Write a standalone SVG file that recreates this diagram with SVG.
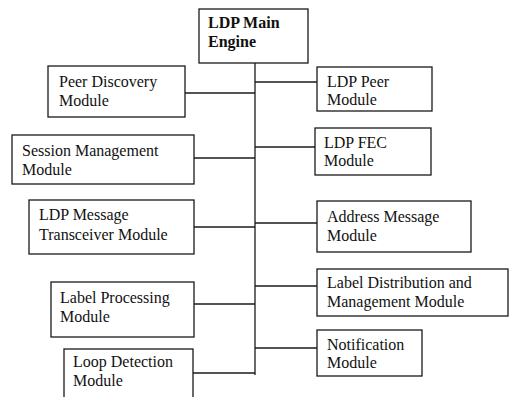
<svg xmlns="http://www.w3.org/2000/svg" width="509" height="397" viewBox="0 0 509 397">
  <style>
    .box { fill: #ffffff; stroke: #1a1a1a; stroke-width: 1.3; }
    .wire { fill: none; stroke: #1a1a1a; stroke-width: 1.3; }
    text { font-family: "Liberation Serif", "Times New Roman", serif; font-size: 16px; fill: #111111; }
    .bold { font-weight: bold; }
  </style>
  <rect width="509" height="397" fill="#ffffff"/>

  <!-- connectors: central trunk and branches -->
  <g id="connectors">
    <line class="wire" x1="255" y1="63" x2="255" y2="375"/>
    <!-- left branches -->
    <line class="wire" x1="185" y1="93" x2="255" y2="93"/>
    <line class="wire" x1="194" y1="158" x2="255" y2="158"/>
    <line class="wire" x1="194" y1="227" x2="255" y2="227"/>
    <line class="wire" x1="194" y1="304" x2="255" y2="304"/>
    <line class="wire" x1="193" y1="373" x2="255" y2="373"/>
    <!-- right branches -->
    <line class="wire" x1="255" y1="82" x2="317" y2="82"/>
    <line class="wire" x1="255" y1="147" x2="315" y2="147"/>
    <line class="wire" x1="255" y1="223" x2="317" y2="223"/>
    <line class="wire" x1="255" y1="286" x2="317" y2="286"/>
    <line class="wire" x1="255" y1="348" x2="317" y2="348"/>
  </g>

  <g id="main-engine">
    <rect class="box" x="199" y="9" width="109" height="54"/>
    <text class="bold" x="208" y="28">LDP Main</text>
    <text class="bold" x="208" y="47">Engine</text>
  </g>

  <g id="peer-discovery">
    <rect class="box" x="48" y="66" width="137" height="51"/>
    <text x="59" y="87">Peer Discovery</text>
    <text x="59" y="106">Module</text>
  </g>

  <g id="session-management">
    <rect class="box" x="12" y="135" width="182" height="49"/>
    <text x="22" y="156">Session Management</text>
    <text x="22" y="175">Module</text>
  </g>

  <g id="message-transceiver">
    <rect class="box" x="29" y="200" width="165" height="54"/>
    <text x="39" y="220">LDP Message</text>
    <text x="39" y="240">Transceiver Module</text>
  </g>

  <g id="label-processing">
    <rect class="box" x="51" y="282" width="143" height="55"/>
    <text x="60" y="303">Label Processing</text>
    <text x="60" y="322">Module</text>
  </g>

  <g id="loop-detection">
    <rect class="box" x="64" y="349" width="129" height="56"/>
    <text x="73" y="367">Loop Detection</text>
    <text x="73" y="386">Module</text>
  </g>

  <g id="ldp-peer">
    <rect class="box" x="317" y="67" width="115" height="44"/>
    <text x="327" y="87">LDP Peer</text>
    <text x="327" y="105">Module</text>
  </g>

  <g id="ldp-fec">
    <rect class="box" x="315" y="128" width="116" height="47"/>
    <text x="324" y="148">LDP FEC</text>
    <text x="324" y="166">Module</text>
  </g>

  <g id="address-message">
    <rect class="box" x="317" y="201" width="154" height="51"/>
    <text x="327" y="222">Address Message</text>
    <text x="327" y="241">Module</text>
  </g>

  <g id="label-distribution">
    <rect class="box" x="317" y="269" width="191" height="47"/>
    <text x="327" y="288">Label Distribution and</text>
    <text x="327" y="307">Management Module</text>
  </g>

  <g id="notification">
    <rect class="box" x="317" y="330" width="105" height="46"/>
    <text x="327" y="350">Notification</text>
    <text x="327" y="368">Module</text>
  </g>
</svg>
